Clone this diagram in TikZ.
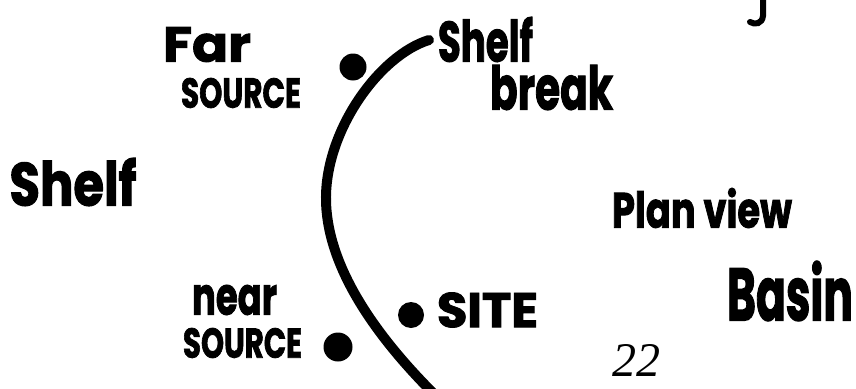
\documentclass[tikz,border=0pt]{standalone}
\usepackage{fontspec}
\setmainfont{Poppins}[BoldFeatures={FakeBold=2}]
\newfontfamily\thinfont{Liberation Serif}
\usepackage{graphicx}
\tikzset{
  hand/.style={inner sep=0pt, outer sep=0pt, font=\bfseries},
  thin/.style={inner sep=0pt, outer sep=0pt, font=\thinfont\itshape},
  blob/.style={circle, fill=black, inner sep=0pt, minimum size=26pt},
  pen/.style={line width=10pt, line cap=round},
}
\newcommand{\fitbox}[3]{\resizebox*{#1pt}{#2pt}{#3}}
\begin{document}
\begin{tikzpicture}[x=1pt,y=-1pt]
\useasboundingbox (0,0) rectangle (856,388);
\clip (0,0) rectangle (856,388);
% labels
\node[hand] (far)    at (207,44.5)  {\fitbox{88}{35}{Far}};
\node[hand] (farsrc) at (241,93)    {\fitbox{120}{30}{SOURCE}};
\node[hand] (shelf)  at (73,182)    {\fitbox{127}{48}{Shelf}};
\node[hand] (shelf2) at (485.5,39.5){\fitbox{95}{45}{Shelf}};
\node[hand] (brk)    at (551.5,87.5){\fitbox{123}{45}{break}};
\node[hand] (plan)   at (702,208)   {\fitbox{180}{40}{Plan view}};
\node[hand] (basin)  at (790,291)   {\fitbox{126}{60}{Basin}};
\node[hand] (site)   at (487.5,310) {\fitbox{101}{35}{SITE}};
\node[hand] (near)   at (234.5,300) {\fitbox{85}{30}{near}};
\node[hand] (nearsrc) at (242.5,343){\fitbox{119}{30}{SOURCE}};
\node[thin] (num)    at (636.5,360) {\fitbox{48}{32}{22}};
% dots
\node[blob, minimum size=27pt] (dfar)  at (353,67)  {};
\node[blob, minimum size=26pt] (dsite) at (411,315) {};
\node[blob, minimum size=29pt] (dnear) at (338,347) {};
% shelf break line
\coordinate (ctop) at (429,40);
\coordinate (cmid) at (326,200);
\coordinate (cbot) at (434,394);
\draw[pen] (ctop) .. controls (380,55) and (325,130) .. (cmid)
                  .. controls (327,270) and (380,340) .. (cbot);
% cut-off stroke at top right
\coordinate (ja) at (763,-4);
\coordinate (jb) at (750,22);
\draw[line width=6pt, line cap=round] (ja) -- (763,16) .. controls (762,24) and (755,25) .. (jb);
\end{tikzpicture}
\end{document}
